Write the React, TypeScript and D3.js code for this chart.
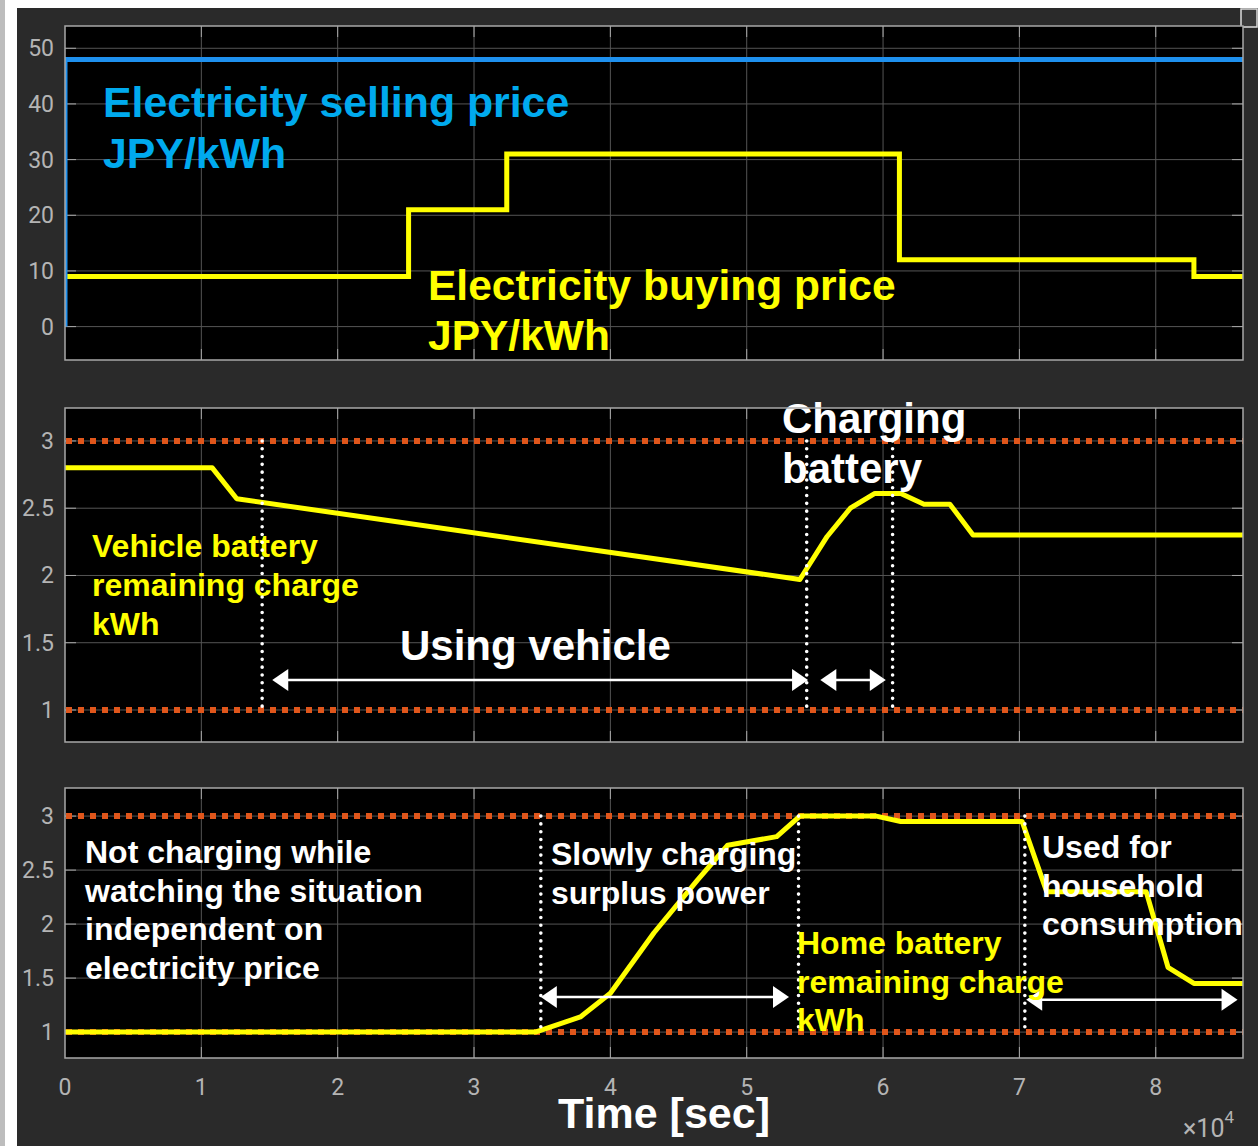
import React from "react";
import * as d3 from "d3";

// ---------- data ----------
const X_MAX = 86400;
const xTicks = [0, 10000, 20000, 30000, 40000, 50000, 60000, 70000, 80000];
const xTickLabels = ["0", "1", "2", "3", "4", "5", "6", "7", "8"];

const priceTicks = [0, 10, 20, 30, 40, 50];
const chargeTicks = [1, 1.5, 2, 2.5, 3];
const chargeTickLabels = ["1", "1.5", "2", "2.5", "3"];

// selling price (JPY/kWh)
const sellTimes = [0, 0, 86400];
const sellPrice = [0, 48, 48];

// buying price (step after)
const buyTimes = [0, 25200, 32400, 61200, 82800, 86400];
const buyPrice = [9, 21, 31, 12, 9, 9];

// vehicle battery remaining charge (kWh)
const vehTimes = [0, 10800, 12600, 53900, 55900, 57600, 59400, 61300, 63000, 64900, 66600, 86400];
const vehCharge = [2.8, 2.8, 2.57, 1.97, 2.29, 2.5, 2.61, 2.61, 2.53, 2.53, 2.3, 2.3];

// home battery remaining charge (kWh)
const homeTimes = [0, 34500, 37800, 40000, 43200, 46400, 48600, 52200, 53900, 59500, 61300, 70200, 72000, 79300, 80900, 82800, 86400];
const homeCharge = [1, 1, 1.14, 1.36, 1.92, 2.41, 2.73, 2.81, 3.0, 3.0, 2.95, 2.95, 2.3, 2.3, 1.6, 1.45, 1.45];

// limits (dotted orange)
const limitLevels = [1, 3];

// annotation markers
const vehMarkers = [14460, 54400, 60700];
const homeMarkers = [34900, 53800, 70400];
const vehArrows = [
  { from: 15200, to: 54500, y: 1.223 },
  { from: 55400, to: 60200, y: 1.223 },
];
const homeArrows = [
  { from: 34900, to: 53100, y: 1.324 },
  { from: 70500, to: 86000, y: 1.3 },
];

// ---------- layout ----------
const W = 1258;
const H = 1146;
const PL = 65;
const PR = 1243;
const panels = [
  { top: 26, bottom: 360, domain: [-6, 54] },
  { top: 408, bottom: 742, domain: [0.762, 3.245] },
  { top: 788, bottom: 1058, domain: [0.76, 3.26] },
];

const BG = "#2a2a2a";
const GRID = "#555555";
const TICKTXT = "#b4b4b4";
const BORDER = "#a8a8a8";
const ORANGE = "#e0561b";
const YELLOW = "#ffff00";
const BLUE_LINE = "#1e90ee";
const BLUE_TXT = "#00aaee";
const BOLD = "'Liberation Sans', Arial, sans-serif";
const TICKFONT = "Roboto, 'Noto Sans', sans-serif";

const x = d3.scaleLinear().domain([0, X_MAX]).range([PL, PR]);
const yScales = panels.map((p) => d3.scaleLinear().domain(p.domain).range([p.bottom, p.top]));

function zip(xs: number[], ys: number[]): [number, number][] {
  return xs.map((v, i) => [v, ys[i]]);
}

function Arrow({ x1, x2, y }: { x1: number; x2: number; y: number }) {
  const hl = 16;
  const hh = 11;
  return (
    <g>
      <line x1={x1 + hl - 2} x2={x2 - hl + 2} y1={y} y2={y} stroke="#fff" strokeWidth={2.5} />
      <path d={`M${x1},${y}L${x1 + hl},${y - hh}L${x1 + hl},${y + hh}Z`} fill="#fff" />
      <path d={`M${x2},${y}L${x2 - hl},${y - hh}L${x2 - hl},${y + hh}Z`} fill="#fff" />
    </g>
  );
}

function Texts({ lines, x0, y0, dy, size, fill }: { lines: string[]; x0: number; y0: number; dy: number; size: number; fill: string }) {
  return (
    <g>
      {lines.map((t, i) => (
        <text key={i} x={x0} y={y0 + i * dy} fontFamily={BOLD} fontWeight="bold" fontSize={size} fill={fill}>
          {t}
        </text>
      ))}
    </g>
  );
}

export default function App() {
  const y1 = yScales[0];
  const y2 = yScales[1];
  const y3 = yScales[2];

  const sellPath = d3.line<[number, number]>().x((d) => x(d[0])).y((d) => y1(d[1]))(zip(sellTimes, sellPrice)) || "";
  const buyPath = d3.line<[number, number]>().x((d) => x(d[0])).y((d) => y1(d[1])).curve(d3.curveStepAfter)(zip(buyTimes, buyPrice)) || "";
  const vehPath = d3.line<[number, number]>().x((d) => x(d[0])).y((d) => y2(d[1]))(zip(vehTimes, vehCharge)) || "";
  const homePath = d3.line<[number, number]>().x((d) => x(d[0])).y((d) => y3(d[1]))(zip(homeTimes, homeCharge)) || "";

  const renderFrame = (pi: number, ticks: number[], labels: string[]) => {
    const p = panels[pi];
    const ys = yScales[pi];
    return (
      <g>
        <rect x={PL} y={p.top} width={PR - PL} height={p.bottom - p.top} fill="#000" />
        {xTicks.slice(1).map((t) => (
          <line key={"gx" + t} x1={x(t)} x2={x(t)} y1={p.top} y2={p.bottom} stroke={GRID} strokeWidth={1} />
        ))}
        {ticks.map((t) => (
          <line key={"gy" + t} x1={PL} x2={PR} y1={ys(t)} y2={ys(t)} stroke={GRID} strokeWidth={1} />
        ))}
        {ticks.map((t) => (
          <g key={"ty" + t}>
            <line x1={PL} x2={PL + 11} y1={ys(t)} y2={ys(t)} stroke={BORDER} strokeWidth={1} />
            <line x1={PR - 11} x2={PR} y1={ys(t)} y2={ys(t)} stroke={BORDER} strokeWidth={1} />
          </g>
        ))}
        {xTicks.slice(1).map((t) => (
          <g key={"tx" + t}>
            <line x1={x(t)} x2={x(t)} y1={p.bottom - 11} y2={p.bottom} stroke={BORDER} strokeWidth={1} />
            <line x1={x(t)} x2={x(t)} y1={p.top} y2={p.top + 11} stroke={BORDER} strokeWidth={1} />
          </g>
        ))}
        {ticks.map((t, i) => (
          <text key={"l" + t} x={54} y={ys(t) + 8} textAnchor="end" fontFamily={TICKFONT} fontSize={23} fill={TICKTXT}>
            {labels[i]}
          </text>
        ))}
      </g>
    );
  };

  const renderLimits = (pi: number) => {
    const ys = yScales[pi];
    return limitLevels.map((lv) => (
      <line key={"lim" + pi + lv} x1={PL + 1} x2={PR} y1={ys(lv)} y2={ys(lv)} stroke={ORANGE} strokeWidth={6} strokeDasharray="6 6" />
    ));
  };

  const renderMarkers = (pi: number, ts: number[]) => {
    const ys = yScales[pi];
    return ts.map((t) => (
      <line key={"mk" + pi + t} x1={x(t)} x2={x(t)} y1={ys(3)} y2={ys(1)} stroke="#fff" strokeWidth={3.6} strokeLinecap="round" strokeDasharray="0 7.8" />
    ));
  };

  const border = (pi: number) => {
    const p = panels[pi];
    return <rect x={PL} y={p.top} width={PR - PL} height={p.bottom - p.top} fill="none" stroke={BORDER} strokeWidth={1.5} />;
  };

  return (
    <svg width={W} height={H} style={{ position: "absolute", left: 0, top: 0, display: "block" }} xmlns="http://www.w3.org/2000/svg">
      <defs>
        {panels.map((p, i) => (
          <clipPath id={"clip" + i} key={i}>
            <rect x={PL} y={p.top} width={PR - PL} height={p.bottom - p.top} />
          </clipPath>
        ))}
      </defs>
      <rect x={0} y={0} width={W} height={H} fill={BG} />
      {/* left and top window edges */}
      <rect x={0} y={0} width={5} height={H} fill="#bdbdbd" />
      <rect x={5} y={0} width={12} height={H} fill="#ffffff" />
      <rect x={17} y={0} width={1223} height={8} fill="#ffffff" />
      <rect x={1240} y={0} width={18} height={8} fill="#ffffff" />
      <rect x={1241} y={9} width={16} height={18} fill="#3a3a3a" stroke="#dddddd" strokeWidth={1.5} />

      {/* panel 1 */}
      {renderFrame(0, priceTicks, priceTicks.map(String))}
      <g clipPath="url(#clip0)">
        <path d={buyPath} fill="none" stroke={YELLOW} strokeWidth={5} />
        <path d={sellPath} fill="none" stroke={BLUE_LINE} strokeWidth={5} />
      </g>
      <Texts lines={["Electricity selling price", "JPY/kWh"]} x0={103} y0={117} dy={51} size={42.8} fill={BLUE_TXT} />
      <Texts lines={["Electricity buying price", "JPY/kWh"]} x0={428} y0={300} dy={50} size={42.5} fill={YELLOW} />
      {border(0)}

      {/* panel 2 */}
      {renderFrame(1, chargeTicks, chargeTickLabels)}
      <g clipPath="url(#clip1)">
        {renderLimits(1)}
        <path d={vehPath} fill="none" stroke={YELLOW} strokeWidth={5} strokeLinejoin="round" />
      </g>
      <Texts lines={["Vehicle battery", "remaining charge", "kWh"]} x0={92} y0={557} dy={39} size={32} fill={YELLOW} />
      {renderMarkers(1, vehMarkers)}
      {vehArrows.map((a, i) => (
        <Arrow key={i} x1={x(a.from)} x2={x(a.to)} y={y2(a.y)} />
      ))}
      <Texts lines={["Using vehicle"]} x0={400} y0={660} dy={0} size={42} fill="#fff" />
      <Texts lines={["Charging", "battery"]} x0={782} y0={433} dy={50} size={42} fill="#fff" />
      {border(1)}

      {/* panel 3 */}
      {renderFrame(2, chargeTicks, chargeTickLabels)}
      <g clipPath="url(#clip2)">
        {renderLimits(2)}
        <path d={homePath} fill="none" stroke={YELLOW} strokeWidth={5} strokeLinejoin="round" />
      </g>
      {renderMarkers(2, homeMarkers)}
      {homeArrows.map((a, i) => (
        <Arrow key={i} x1={x(a.from)} x2={x(a.to)} y={y3(a.y)} />
      ))}
      <Texts lines={["Not charging while", "watching the situation", "independent on", "electricity price"]} x0={85} y0={863} dy={38.5} size={32} fill="#fff" />
      <Texts lines={["Slowly charging", "surplus power"]} x0={551} y0={865} dy={38.5} size={32} fill="#fff" />
      <Texts lines={["Home battery", "remaining charge", "kWh"]} x0={797} y0={954} dy={38.5} size={32} fill={YELLOW} />
      <Texts lines={["Used for", "household", "consumption"]} x0={1042} y0={858} dy={38.5} size={32} fill="#fff" />
      {border(2)}

      {/* x axis labels */}
      {xTicks.map((t, i) => (
        <text key={"xl" + t} x={x(t)} y={1095} textAnchor="middle" fontFamily={TICKFONT} fontSize={23} fill={TICKTXT}>
          {xTickLabels[i]}
        </text>
      ))}
      <text x={1183} y={1137} fontFamily={TICKFONT} fontSize={25} fill={TICKTXT}>
        ×10
        <tspan fontSize={17} dy={-14}>4</tspan>
      </text>
      <text x={664} y={1128} textAnchor="middle" fontFamily={BOLD} fontWeight="bold" fontSize={43} fill="#fff">
        Time [sec]
      </text>
    </svg>
  );
}
